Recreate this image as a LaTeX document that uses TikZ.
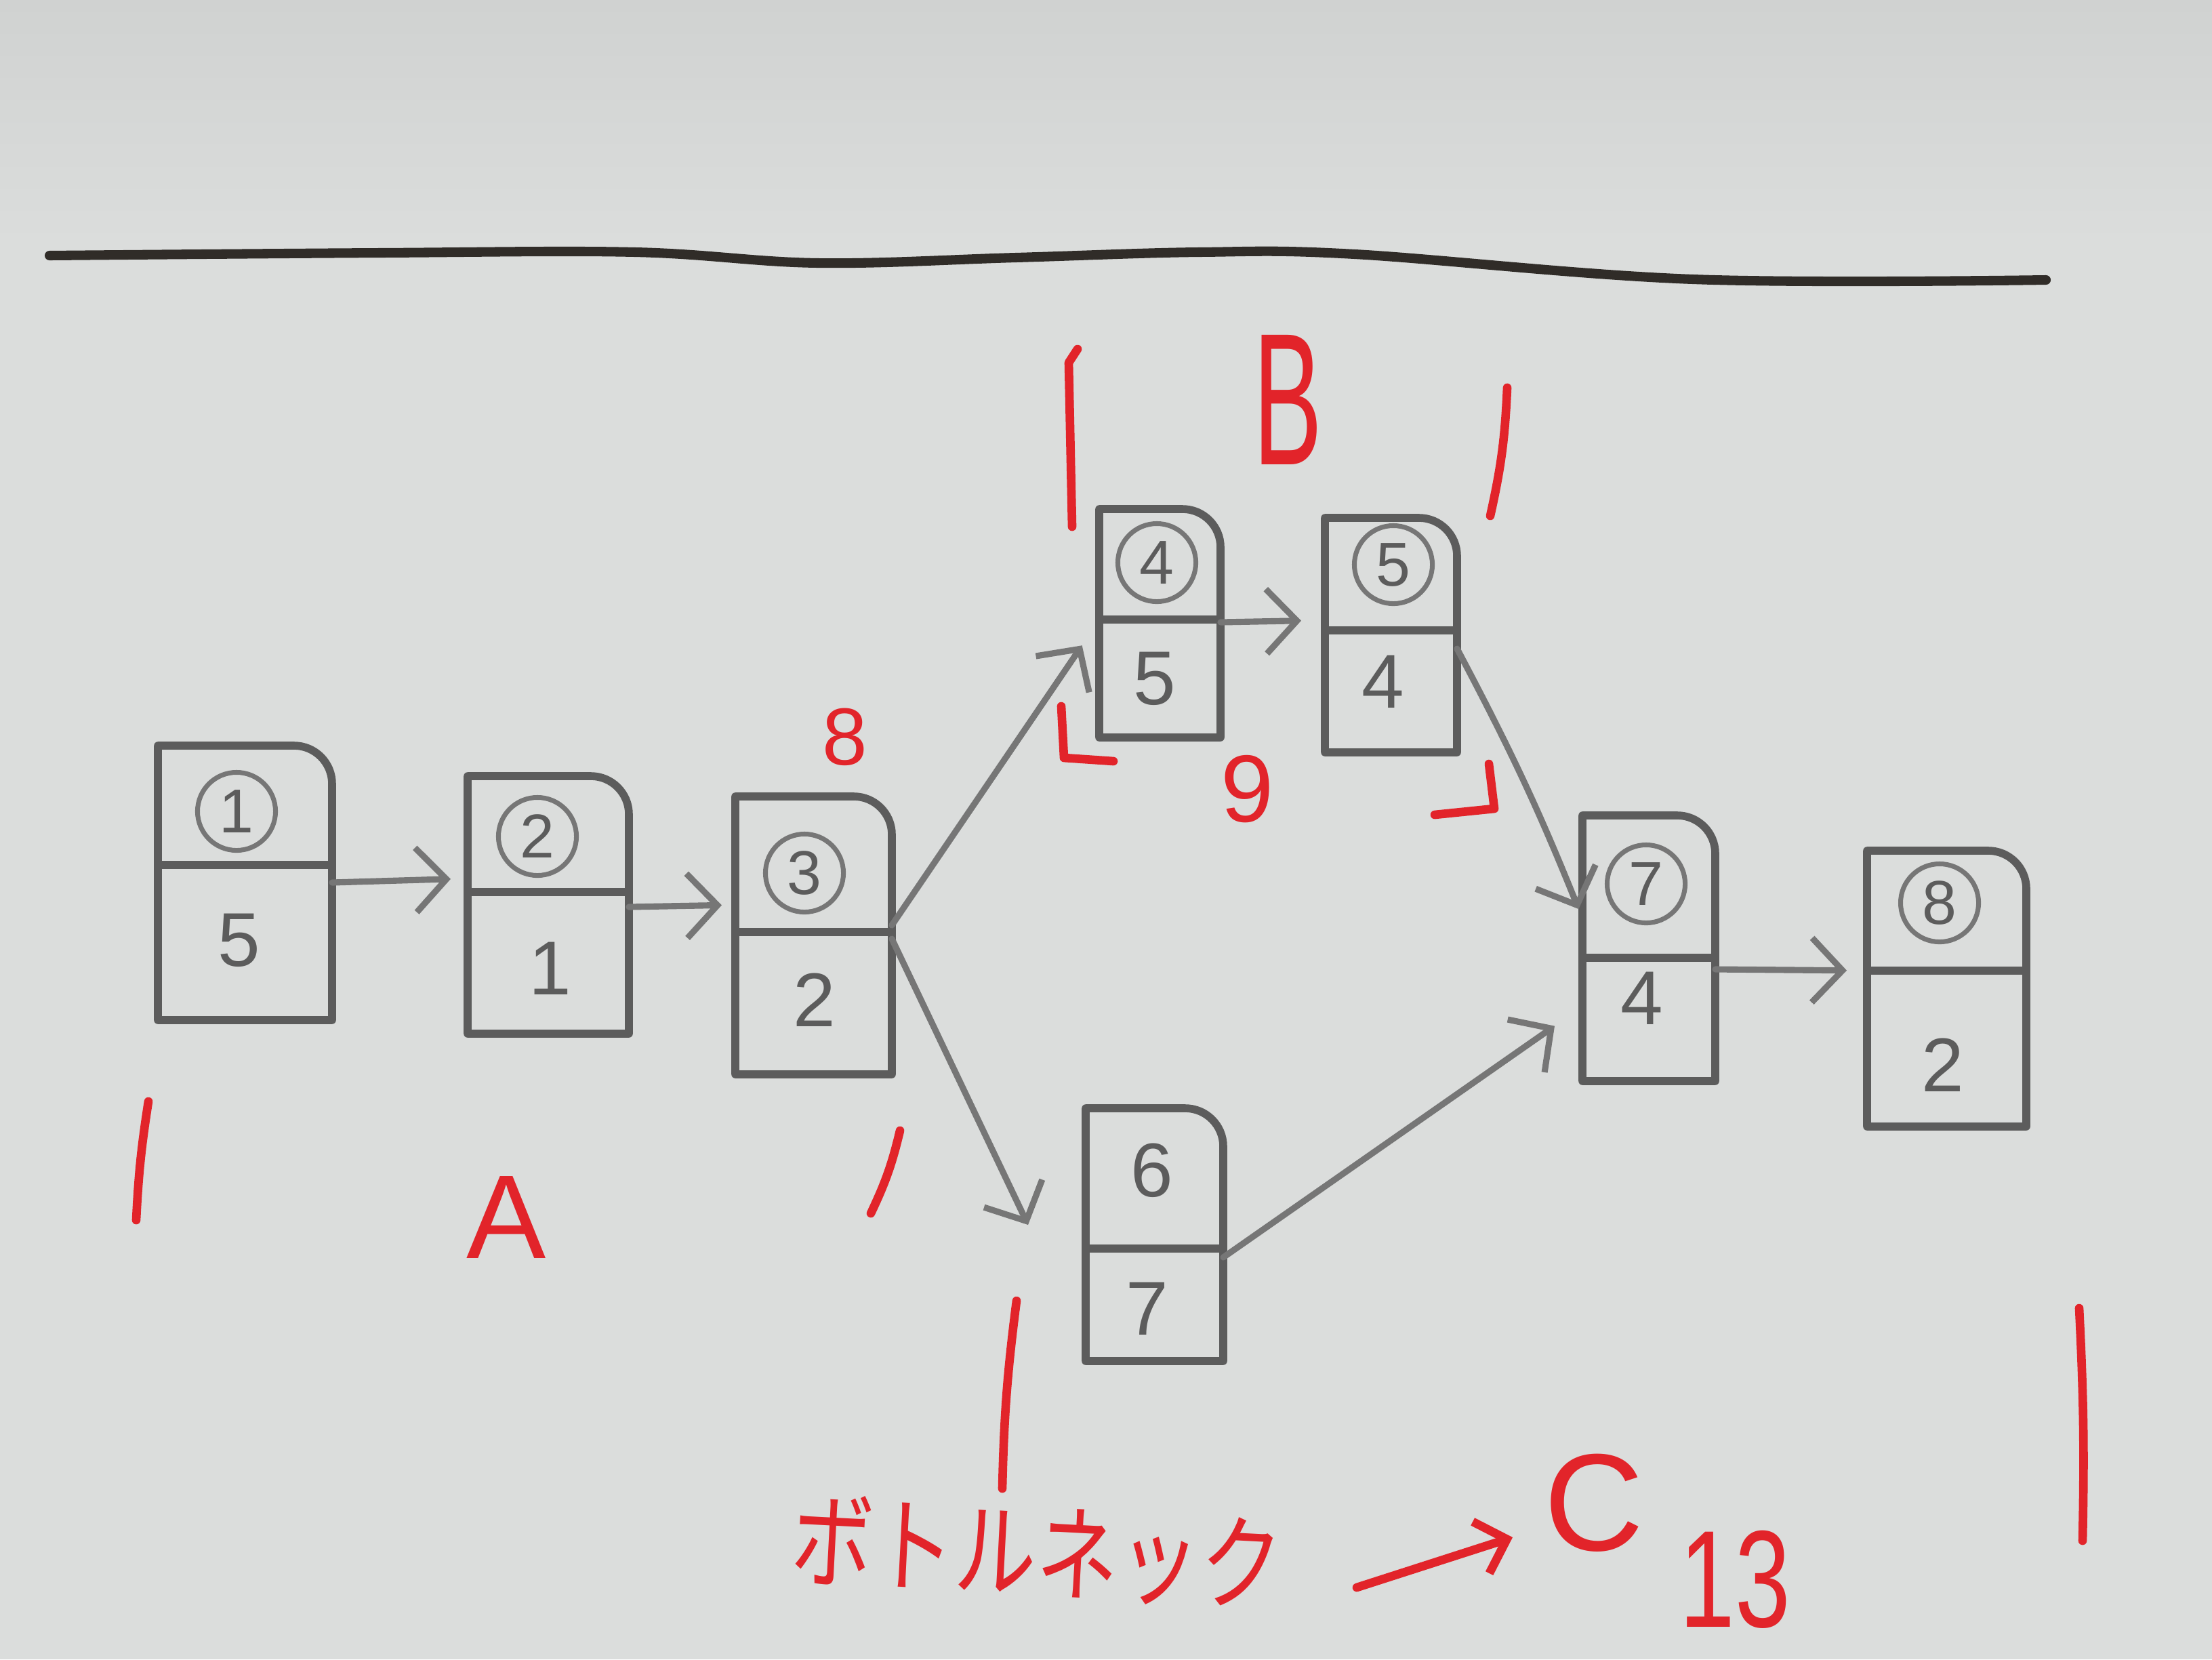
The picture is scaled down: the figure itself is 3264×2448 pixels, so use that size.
\documentclass[tikz,border=0pt]{standalone}
\usepackage{fontspec}
\setmainfont{Liberation Sans}
\newfontfamily\jpfont{Noto Sans CJK JP}
\usetikzlibrary{arrows.meta,calc}
\definecolor{bg}{RGB}{219,221,220}
\definecolor{bgtop}{RGB}{208,210,209}
\definecolor{ink}{RGB}{92,92,92}
\definecolor{inklight}{RGB}{118,118,118}
\definecolor{pen}{RGB}{226,36,42}
\definecolor{darkline}{RGB}{48,44,40}
\tikzset{
  boxframe/.style={rectangle, draw=none, inner sep=0pt, outer sep=0pt},
  boxline/.style={draw=ink, line width=3.3pt, line cap=round, line join=round},
  circnum/.style={circle, draw=inklight, line width=2pt, minimum size=1.15cm, inner sep=0pt, text=ink, font=\fontsize{26}{28}\selectfont},
  plainnum/.style={text=ink, inner sep=0pt, font=\fontsize{32}{34}\selectfont},
  flow/.style={draw=inklight, line width=2.6pt, line cap=round, -{Straight Barb[length=0.45cm,width=0.95cm]}},
  redmark/.style={draw=pen, line width=3.6pt, line cap=round, line join=round},
  redarrow/.style={redmark, -{Straight Barb[length=0.4cm,width=0.8cm]}},
  redtext/.style={text=pen, inner sep=0pt},
}
\newcommand\taskbox[6]{%
  \node[boxframe, minimum width={(#4-#2)*0.01cm}, minimum height={(#5-#3)*0.01cm}] (#1) at ({(#2+#4)/2},{(#3+#5)/2}) {};
  \draw[boxline] (#1.south west) -- (#1.north west) [rounded corners=16pt] -- (#1.north east) [sharp corners] -- (#1.south east) -- cycle;
  \draw[boxline] (#1.west |- 0,#6) -- (#1.east |- 0,#6);
}
\begin{document}
\begin{tikzpicture}[x=0.01cm, y=-0.01cm]
\useasboundingbox (0,0) rectangle (3264,2448);
\fill[bg] (0,0) rectangle (3264,2448);
\shade[top color=bgtop, bottom color=bg] (0,0) rectangle (3264,360);
% top rule
\draw[darkline, line width=4pt, line cap=round] plot[smooth, tension=0.6] coordinates {(73,377) (562,373) (937,372) (1207,388) (1499,380) (1770,372) (1999,375) (2498,412) (3019,413)};
% boxes
\taskbox{b1}{233}{1100}{490}{1505}{1276}
\taskbox{b2}{690}{1145}{928}{1525}{1316}
\taskbox{b3}{1085}{1175}{1316}{1585}{1375}
\taskbox{b4}{1622}{751}{1801}{1088}{914}
\taskbox{b5}{1955}{764}{2150}{1110}{930}
\taskbox{b6}{1602}{1635}{1805}{2008}{1842}
\taskbox{b7}{2335}{1203}{2531}{1595}{1413}
\taskbox{b8}{2755}{1255}{2990}{1662}{1432}
% numbers
\node[circnum] (c1) at (349,1197) {1};
\node[plainnum] (d1) at (353,1387) {5};
\node[circnum] (c2) at (793,1234) {2};
\node[plainnum] (d2) at (812,1429) {1};
\node[circnum] (c3) at (1187,1288) {3};
\node[plainnum] (d3) at (1202,1475) {2};
\node[circnum] (c4) at (1707,830) {4};
\node[plainnum] (d4) at (1704,1001) {5};
\node[circnum] (c5) at (2056,833) {5};
\node[plainnum] (d5) at (2041,1006) {4};
\node[plainnum] (c6) at (1700,1727) {6};
\node[plainnum] (d6) at (1693,1931) {7};
\node[circnum] (c7) at (2429,1304) {7};
\node[plainnum] (d7) at (2423,1473) {4};
\node[circnum] (c8) at (2862,1332) {8};
\node[plainnum] (d8) at (2867,1571) {2};
% connectors
\draw[flow, shorten >=0.25cm] (b1.east |- 0,1302) -- (b2.west |- 0,1296);
\draw[flow, shorten >=0.2cm] (b2.east |- 0,1338) -- (b3.west |- 0,1335);
\draw[flow, shorten >=0.45cm] (b3.east |- 0,1365) -- (b4.west |- 0,915);
\draw[flow] (b3.east |- 0,1385) -- ($(b6.west |- 0,1842)+(-85,-35)$);
\draw[flow, shorten >=0.35cm] (b4.east |- 0,918) -- (b5.west |- 0,915);
\draw[flow, shorten >=0.15cm] (b5.east |- 0,957) to[bend left=3] (b7.west |- 0,1355);
\draw[flow, shorten >=0.5cm] (b6.east |- 0,1855) -- (b7.west |- 0,1485);
\draw[flow, shorten >=0.3cm] (b7.east |- 0,1430) -- (b8.west |- 0,1432);
% red annotations
\node[redtext, font=\fontsize{34}{36}\selectfont] (l8) at (1247,1087) {8};
\node[redtext, font=\fontsize{40}{42}\selectfont] (l9) at (1841,1164) {9};
\node[redtext, font=\fontsize{79}{80}\selectfont] (lB) at (1900,590) {\scalebox{0.55}[1]{B}};
\node[redtext, font=\fontsize{50}{52}\selectfont] (lA) at (747,1796) {A};
\node[redtext, font=\fontsize{58}{60}\selectfont] (lC) at (2352,2217) {C};
\node[redtext, font=\fontsize{58}{60}\selectfont] (l13) at (2560,2330) {\scalebox{0.72}[1]{13}};
\node[redtext, font=\jpfont\fontsize{44}{46}\selectfont, rotate=-3] (bn) at (1530,2290) {\scalebox{0.78}[1]{ボトルネック}};
\coordinate (arrS) at (2002,2342);
\coordinate (arrE) at (2232,2268);
\draw[redarrow] (arrS) -- (arrE);
% red brackets and bars
\draw[redmark] (219,1625) to[bend right=3] (201,1800);
\draw[redmark] (1328,1668) to[bend left=6] (1285,1790);
\draw[redmark] (1590,515) -- (1577,535) -- (1582,777);
\draw[redmark] (2224,572) to[bend left=5] (2199,761);
\draw[redmark] (1566,1042) -- (1570,1118) -- (1643,1123);
\draw[redmark] (2197,1127) -- (2205,1193) -- (2117,1202);
\draw[redmark] (1500,1919) to[bend right=3] (1479,2196);
\draw[redmark] (3068,1930) to[bend left=2] (3073,2273);
\end{tikzpicture}
\end{document}
